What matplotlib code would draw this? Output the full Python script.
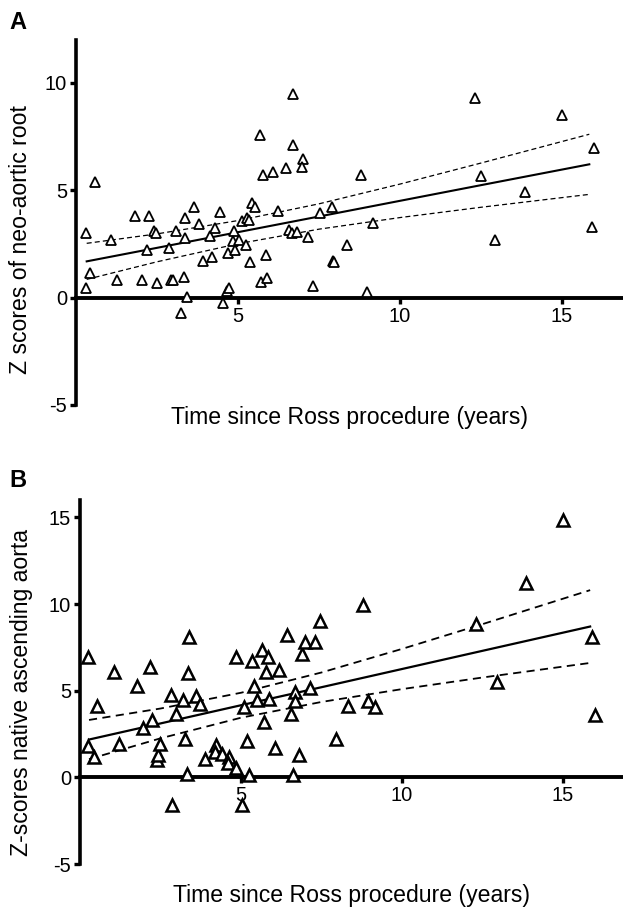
import matplotlib
matplotlib.use("Agg")
import matplotlib.pyplot as plt
import numpy as np

plt.rcParams['font.family'] = ['Liberation Sans', 'DejaVu Sans']
plt.rcParams['axes.unicode_minus'] = False

# ---------------- Panel A data ----------------
a_x = [0.31, 0.58, 0.43, 0.31, 1.08, 1.27, 1.82, 2.25, 2.19, 2.03, 2.40, 2.47, 2.50,
       2.87, 2.93, 3.00, 3.10, 3.33, 3.36, 3.36, 3.24, 3.43, 3.64, 3.80, 3.92, 4.14,
       4.20, 4.29, 4.44, 4.54, 4.66, 4.72, 4.69, 4.88, 4.85, 4.90, 5.03, 5.12, 5.28,
       5.34, 5.25, 5.37, 5.43, 5.52, 5.68, 5.77, 5.71, 5.90, 5.86, 6.08, 6.23, 6.48,
       6.57, 6.67, 6.82, 6.70, 6.70, 7.01, 6.98, 7.16, 7.31, 7.53, 7.90, 8.36, 7.93,
       7.95, 8.80, 9.17, 8.98, 12.30, 12.50, 12.93, 13.86, 15.00, 15.99, 15.93]
a_y = [3.00, 5.40, 1.15, 0.45, 2.70, 0.83, 3.80, 3.80, 2.20, 0.83, 3.10, 3.00, 0.66,
       2.30, 0.83, 0.83, 3.10, 0.98, 3.70, 2.80, -0.70, 0.05, 4.20, 3.45, 1.72, 2.87,
       1.90, 3.26, 4.00, -0.23, 0.33, 0.47, 2.10, 3.10, 2.65, 2.20, 2.70, 3.58, 3.72,
       3.63, 2.45, 1.68, 4.42, 4.20, 7.58, 5.72, 0.74, 0.93, 2.00, 5.86, 4.05, 6.05,
       3.16, 3.02, 3.07, 9.50, 7.10, 6.46, 6.09, 2.84, 0.56, 3.95, 4.23, 2.47, 1.72,
       1.68, 5.72, 3.49, 0.28, 9.30, 5.67, 2.70, 4.93, 8.51, 6.97, 3.30]

a_fit_x = [0.33, 2.5, 5.0, 7.5, 10.0, 12.5, 15.84]
a_fit = [1.69, 2.32, 3.05, 3.78, 4.51, 5.24, 6.21]
a_upper = [2.53, 2.97, 3.59, 4.37, 5.29, 6.27, 7.61]
a_lower = [0.85, 1.67, 2.51, 3.19, 3.73, 4.21, 4.81]

# ---------------- Panel B data ----------------
b_x = [0.26, 0.26, 0.43, 0.54, 1.05, 1.22, 1.78, 1.97, 2.16, 2.23, 2.38, 2.43, 2.48,
       2.82, 2.97, 2.87, 3.19, 3.27, 3.33, 3.39, 3.34, 3.60, 3.73, 3.88, 4.22, 4.19,
       4.40, 4.64, 4.59, 4.84, 4.84, 5.10, 5.04, 5.26, 5.20, 5.35, 5.41, 5.49, 5.66,
       5.70, 5.77, 5.84, 5.86, 6.06, 6.19, 6.44, 6.55, 6.62, 6.68, 6.68, 6.80, 6.90,
       6.99, 7.14, 7.30, 7.45, 7.94, 8.33, 8.78, 8.95, 9.16, 12.29, 12.94, 13.86,
       15.01, 15.91, 15.99]
b_y = [6.92, 1.78, 1.17, 4.10, 6.10, 1.90, 5.25, 2.83, 6.38, 3.28, 1.00, 1.26, 1.94,
       4.77, 3.66, -1.58, 4.48, 2.22, 0.17, 8.12, 6.01, 4.71, 4.24, 1.03, 1.84, 1.45,
       1.36, 1.17, 0.84, 0.56, 6.92, 4.08, -1.61, 0.11, 2.07, 6.72, 5.29, 4.48, 7.34,
       3.18, 6.05, 6.92, 4.52, 1.71, 6.21, 8.22, 3.66, 0.11, 4.94, 4.43, 1.26, 7.14,
       7.82, 5.13, 7.78, 9.02, 2.22, 4.10, 9.94, 4.43, 4.08, 8.83, 5.52, 11.20,
       14.87, 8.12, 3.62]

b_fit_x = [0.28, 2.5, 5.0, 7.5, 10.0, 12.5, 15.84]
b_fit = [2.18, 3.11, 4.16, 5.20, 6.25, 7.30, 8.70]
b_upper = [3.31, 3.97, 4.88, 6.05, 7.41, 8.84, 10.80]
b_lower = [1.05, 2.25, 3.44, 4.35, 5.09, 5.76, 6.60]

W, H = 623, 910
fig = plt.figure(figsize=(W / 100, H / 100), dpi=100)


def px_axes(left, right, top, bottom):
    return fig.add_axes([left / W, 1 - bottom / H, (right - left) / W, (bottom - top) / H])


def style(ax, xlim, ylim, yticks, ylabel, ylab_coords, xlab_y):
    ax.set_xlim(*xlim)
    ax.set_ylim(*ylim)
    ax.spines['top'].set_visible(False)
    ax.spines['right'].set_visible(False)
    ax.spines['bottom'].set_position(('data', 0))
    ax.spines['left'].set_linewidth(2.6)
    ax.spines['bottom'].set_linewidth(2.8)
    ax.set_xticks([5, 10, 15])
    ax.set_yticks(yticks)
    ax.tick_params(axis='both', direction='out', length=4, width=2.4,
                   labelsize=14.5, pad=2.5)
    ax.set_ylabel(ylabel, fontsize=16.6)
    ax.yaxis.set_label_coords(*ylab_coords)
    ax.set_xlabel('Time since Ross procedure (years)', fontsize=16.6)
    ax.xaxis.set_label_coords(0.5, xlab_y)
    ax.patch.set_alpha(0)


# Panel A
axA = px_axes(76, 623, 40, 405)
axA.plot(a_x, a_y, linestyle='none', marker='^', markersize=7.5,
         markerfacecolor='white', markeredgecolor='black', markeredgewidth=1.3, zorder=3)
axA.plot(a_fit_x, a_fit, color='black', lw=1.5, zorder=2)
axA.plot(a_fit_x, a_upper, color='black', lw=0.9, dashes=(4, 2.5), zorder=2)
axA.plot(a_fit_x, a_lower, color='black', lw=0.9, dashes=(4, 2.5), zorder=2)
style(axA, (0, 16.88), (-5, 12), [-5, 0, 5, 10], 'Z scores of neo-aortic root',
      (-0.080, 0.452), -0.002)
fig.text(9 / W, 1 - 29 / H, 'A', fontsize=17, fontweight='bold', ha='left', va='baseline')

# Panel B
axB = px_axes(80, 623, 500, 864)
axB.plot(b_x, b_y, linestyle='none', marker='^', markersize=8,
         markerfacecolor='white', markeredgecolor='black', markeredgewidth=1.8, zorder=3)
axB.plot(b_fit_x, b_fit, color='black', lw=1.6, zorder=2)
axB.plot(b_fit_x, b_upper, color='black', lw=1.3, dashes=(4.5, 3), zorder=2)
axB.plot(b_fit_x, b_lower, color='black', lw=1.3, dashes=(4.5, 3), zorder=2)
style(axB, (0, 16.86), (-5, 16), [-5, 0, 5, 10, 15], 'Z-scores native ascending aorta',
      (-0.0865, 0.4725), -0.055)
fig.text(9 / W, 1 - 487 / H, 'B', fontsize=17, fontweight='bold', ha='left', va='baseline')

fig.savefig('out.png', dpi=100)
